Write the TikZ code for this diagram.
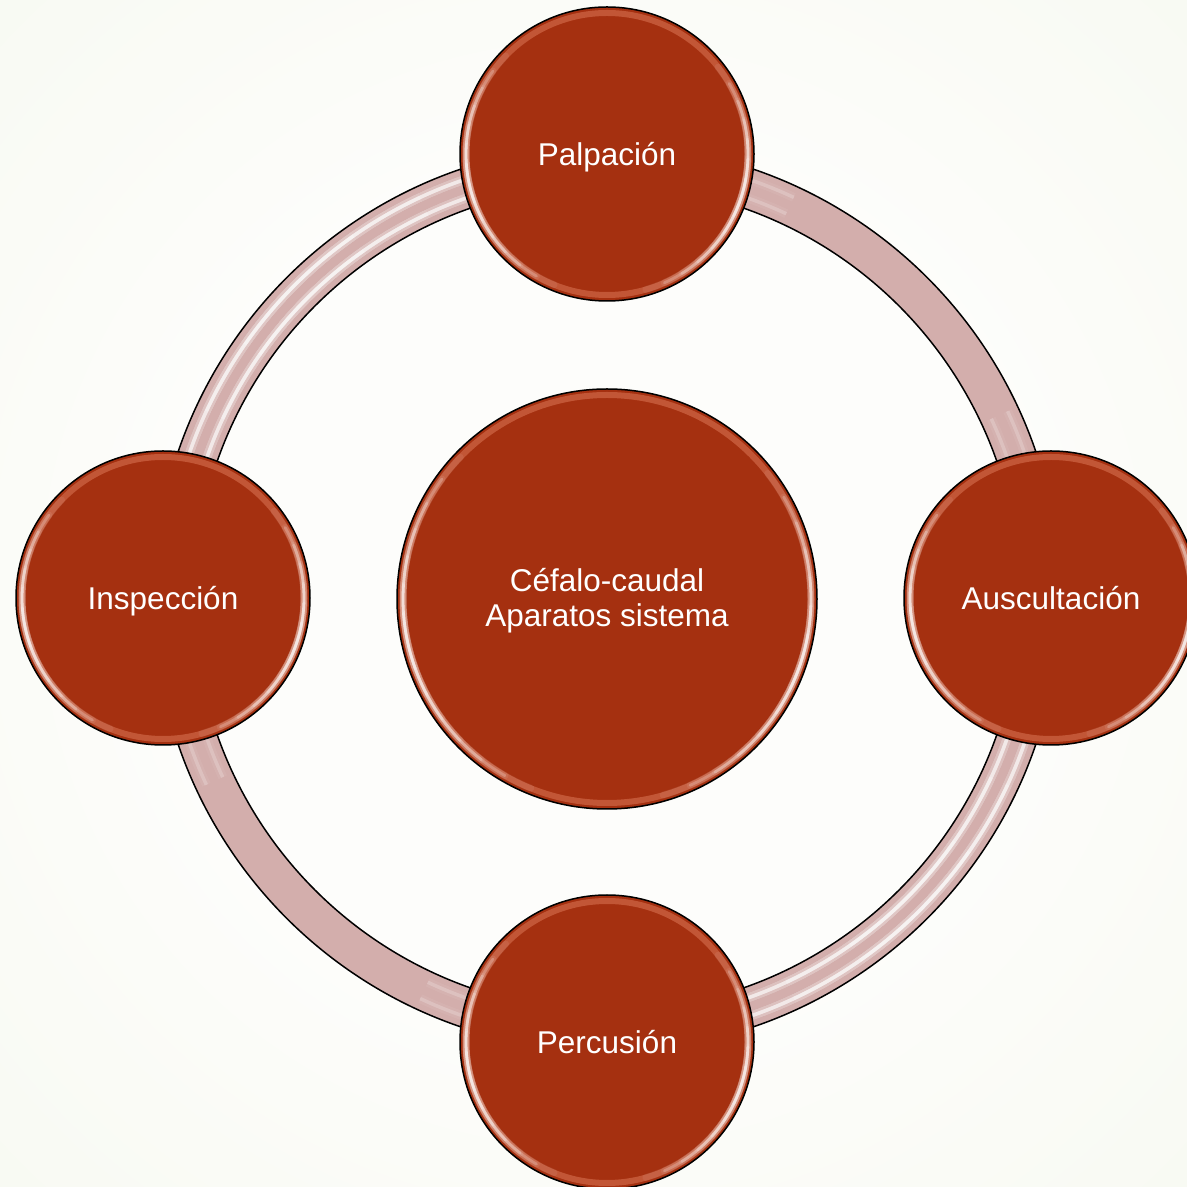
\documentclass[tikz,border=0pt]{standalone}
\usepackage{fontspec}
\setmainfont{Liberation Sans}
\definecolor{cfill}{RGB}{165,48,16}
\definecolor{cband}{RGB}{214,112,80}
\definecolor{ringc}{RGB}{211,174,172}
\definecolor{bgin}{RGB}{253,253,251}
\definecolor{bgmid}{RGB}{244,247,236}
\definecolor{bgout}{RGB}{229,236,210}
\pgfdeclareradialshading{bgshade}{\pgfpointorigin}{color(0bp)=(bgin); color(18bp)=(bgin); color(50bp)=(bgmid); color(71bp)=(bgout)}
\tikzset{
  bead/.style={circle, draw=black, line width=1.5pt, fill=cfill, text=white,
    inner sep=0pt, minimum size=#1,
    font=\fontsize{31.5pt}{34.5pt}\selectfont},
  ringline/.style={black, line width=1.5pt},
  glint/.style={white, opacity=0.22, line width=2.8pt, line cap=round},
  glow/.style={white, opacity=0.07, line width=7pt, line cap=round},
  ringglint/.style={white, opacity=0.2, line width=3.5pt},
  ringglow/.style={white, opacity=0.06, line width=9pt}
}
\newcommand\lowtext[1]{\raisebox{-3pt}[\height][\depth]{#1}}
\newcommand\oneline[1]{\lowtext{\vphantom{óp}#1}}
\newcommand\beadshine[2]{%
  \begin{scope}[shift={(#1)}]
    \draw[cband, opacity=0.6, line width=6pt] (0,0) circle[radius={#2pt-6pt}];
    \foreach \s in {8,16,...,56} {
      \draw[glow] ({192-\s}:{#2pt-6pt}) arc[start angle={192-\s}, end angle={192+\s}, radius={#2pt-6pt}];
      \draw[glow] ({-18-\s}:{#2pt-6pt}) arc[start angle={-18-\s}, end angle={-18+\s}, radius={#2pt-6pt}];
    }
    \foreach \s in {8,16,...,48} {
      \draw[glint] ({192-\s}:{#2pt-6pt}) arc[start angle={192-\s}, end angle={192+\s}, radius={#2pt-6pt}];
      \draw[glint] ({-18-\s}:{#2pt-6pt}) arc[start angle={-18-\s}, end angle={-18+\s}, radius={#2pt-6pt}];
    }
  \end{scope}}
\begin{document}
\begin{tikzpicture}[x=1pt,y=1pt]
  \useasboundingbox (0,0) rectangle (1187,1187);
  \shade[shading=bgshade] (0,0) rectangle (1187,1187);
  \coordinate (o) at (607,589);
  % ring
  \fill[ringc, even odd rule] (o) circle[radius=453pt] circle[radius=413pt];
  \begin{scope}[even odd rule]
    \clip (o) circle[radius=452pt] circle[radius=414pt];
    \begin{scope}[shift={(o)}]
      \foreach \a in {135,-45} {
        \foreach \s in {10,20,...,70} {
          \draw[ringglow] ({\a-\s}:424pt) arc[start angle={\a-\s}, end angle={\a+\s}, radius=424pt];
          \draw[ringglow] ({\a-\s}:442pt) arc[start angle={\a-\s}, end angle={\a+\s}, radius=442pt];
          \draw[ringglint] ({\a-\s}:424pt) arc[start angle={\a-\s}, end angle={\a+\s}, radius=424pt];
          \draw[ringglint] ({\a-\s}:442pt) arc[start angle={\a-\s}, end angle={\a+\s}, radius=442pt];
        }
      }
    \end{scope}
  \end{scope}
  \draw[ringline] (o) circle[radius=453pt];
  \draw[ringline] (o) circle[radius=413pt];
  % nodes
  \node[bead=420pt] (ctr) at (607,588) {\lowtext{\begin{tabular}{@{}c@{}}Céfalo-caudal\\Aparatos sistema\end{tabular}}};
  \node[bead=294pt] (pal) at (607,1033) {\oneline{Palpación}};
  \node[bead=294pt] (ins) at (163,589) {\oneline{Inspección}};
  \node[bead=294pt] (aus) at (1051,589) {\oneline{Auscultación}};
  \node[bead=294pt] (per) at (607,145) {\oneline{Percusión}};
  \beadshine{ctr}{210}
  \beadshine{pal}{147}
  \beadshine{ins}{147}
  \beadshine{aus}{147}
  \beadshine{per}{147}
\end{tikzpicture}
\end{document}
